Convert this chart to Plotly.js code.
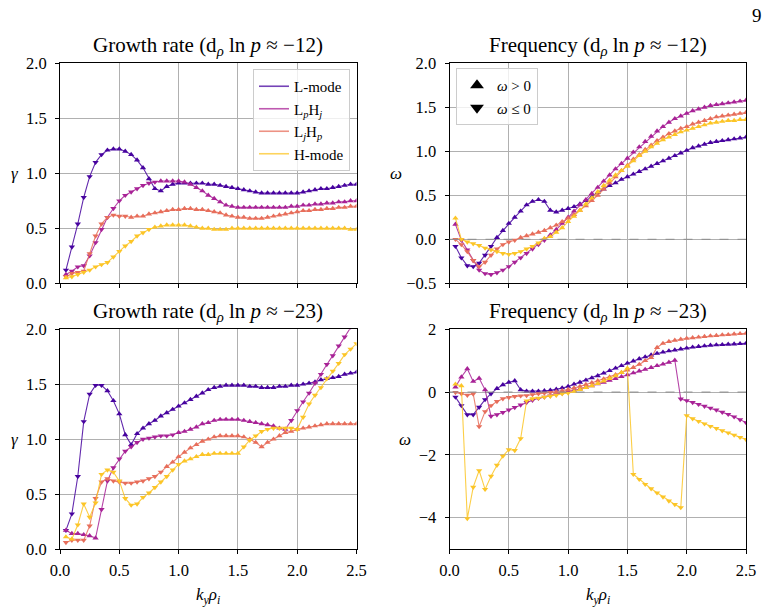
<!DOCTYPE html>
<html>
<head>
<meta charset="utf-8">
<script src="https://cdn.plot.ly/plotly-3.0.1.min.js"></script>
<style>
  html, body { margin: 0; padding: 0; background: #ffffff; }
  #chart { width: 768px; height: 608px; }
</style>
</head>
<body>
<div id="chart"></div>
<script>
// Binormal wavenumber grid k_y rho_i
const ky = [0.05,0.10,0.15,0.20,0.25,0.30,0.35,0.40,0.45,0.50,
            0.55,0.60,0.65,0.70,0.75,0.80,0.85,0.90,0.95,1.00,
            1.05,1.10,1.15,1.20,1.25,1.30,1.35,1.40,1.45,1.50,
            1.55,1.60,1.65,1.70,1.75,1.80,1.85,1.90,1.95,2.00,
            2.05,2.10,2.15,2.20,2.25,2.30,2.35,2.40,2.45,2.50];

const seriesNames = ['L-mode', 'L<sub><i>p</i></sub>H<sub><i>j</i></sub>', 'L<sub><i>j</i></sub>H<sub><i>p</i></sub>', 'H-mode'];
const seriesColors = ['#47039f', '#a82296', '#e76e5b', '#fcc527'];

// Growth rate, d_rho ln p ~ -12
const gr12_L    = [0.12,0.33,0.54,0.78,0.97,1.10,1.17,1.21,1.22,1.22, 1.20,1.17,1.12,1.05,0.95,0.86,0.84,0.88,0.90,0.91, 0.91,0.91,0.91,0.91,0.90,0.90,0.89,0.88,0.87,0.86, 0.85,0.84,0.83,0.82,0.82,0.82,0.82,0.82,0.82,0.82, 0.83,0.84,0.85,0.86,0.86,0.87,0.88,0.89,0.90,0.90];
const gr12_LpHj = [0.08,0.11,0.15,0.16,0.25,0.37,0.49,0.60,0.68,0.75, 0.80,0.83,0.86,0.89,0.91,0.92,0.93,0.93,0.93,0.93, 0.92,0.90,0.87,0.84,0.80,0.77,0.74,0.71,0.70,0.69, 0.69,0.69,0.69,0.69,0.69,0.69,0.69,0.69,0.70,0.70, 0.71,0.71,0.72,0.72,0.73,0.73,0.74,0.74,0.75,0.75];
const gr12_LjHp = [0.06,0.09,0.10,0.11,0.27,0.43,0.54,0.60,0.62,0.61, 0.61,0.60,0.61,0.61,0.63,0.64,0.65,0.66,0.67,0.67, 0.68,0.68,0.67,0.67,0.66,0.65,0.64,0.62,0.61,0.60, 0.60,0.59,0.59,0.59,0.60,0.61,0.62,0.63,0.64,0.65, 0.66,0.66,0.67,0.67,0.68,0.68,0.69,0.69,0.70,0.70];
const gr12_H    = [0.05,0.06,0.08,0.10,0.12,0.15,0.17,0.19,0.24,0.29, 0.34,0.38,0.43,0.46,0.49,0.51,0.52,0.53,0.53,0.53, 0.53,0.52,0.51,0.50,0.50,0.49,0.49,0.49,0.50,0.50, 0.50,0.50,0.50,0.50,0.50,0.50,0.50,0.50,0.50,0.50, 0.50,0.50,0.50,0.50,0.50,0.50,0.50,0.50,0.49,0.49];

// Frequency, d_rho ln p ~ -12
const fr12_L    = [-0.08,-0.21,-0.30,-0.31,-0.27,-0.18,-0.08,0.02,0.10,0.18, 0.25,0.32,0.39,0.43,0.45,0.43,0.33,0.31,0.33,0.35, 0.37,0.40,0.44,0.48,0.53,0.57,0.61,0.64,0.68,0.71, 0.74,0.77,0.80,0.83,0.86,0.89,0.92,0.95,0.98,1.01, 1.04,1.06,1.08,1.10,1.11,1.12,1.13,1.14,1.15,1.16];
const fr12_LpHj = [0.17,-0.01,-0.12,-0.24,-0.35,-0.39,-0.40,-0.38,-0.35,-0.31, -0.26,-0.21,-0.16,-0.11,-0.06,-0.01,0.05,0.11,0.18,0.25, 0.32,0.39,0.45,0.52,0.59,0.66,0.73,0.80,0.86,0.92, 0.99,1.05,1.11,1.17,1.23,1.28,1.33,1.37,1.40,1.43, 1.46,1.48,1.50,1.52,1.53,1.54,1.55,1.56,1.57,1.58];
const fr12_LjHp = [0.00,-0.06,-0.14,-0.24,-0.31,-0.26,-0.18,-0.11,-0.06,-0.03, -0.01,0.02,0.04,0.06,0.08,0.10,0.13,0.16,0.20,0.24, 0.28,0.33,0.38,0.44,0.50,0.57,0.64,0.71,0.78,0.84, 0.91,0.96,1.02,1.07,1.12,1.16,1.20,1.23,1.26,1.28, 1.31,1.33,1.35,1.37,1.39,1.40,1.41,1.42,1.43,1.44];
const fr12_H    = [0.24,0.00,-0.03,-0.05,-0.07,-0.10,-0.12,-0.14,-0.16,-0.17, -0.16,-0.14,-0.11,-0.08,-0.04,0.01,0.03,0.08,0.13,0.20, 0.26,0.33,0.40,0.47,0.54,0.61,0.67,0.73,0.78,0.83, 0.89,0.95,1.00,1.05,1.09,1.13,1.16,1.19,1.22,1.24, 1.26,1.28,1.30,1.32,1.33,1.34,1.35,1.35,1.36,1.36];

// Growth rate, d_rho ln p ~ -23
const gr23_L    = [0.17,0.32,0.66,1.16,1.41,1.49,1.49,1.44,1.35,1.23, 1.04,0.95,1.05,1.10,1.14,1.17,1.21,1.24,1.27,1.30, 1.33,1.36,1.39,1.42,1.45,1.47,1.48,1.49,1.49,1.49, 1.49,1.48,1.48,1.47,1.47,1.47,1.48,1.48,1.49,1.49, 1.50,1.51,1.52,1.54,1.55,1.56,1.57,1.59,1.60,1.61];
const gr23_LpHj = [0.17,0.14,0.14,0.13,0.12,0.10,0.36,0.62,0.74,0.82, 0.89,0.93,0.97,1.00,1.01,1.02,1.03,1.03,1.04,1.06, 1.07,1.09,1.11,1.14,1.15,1.17,1.18,1.18,1.18,1.18, 1.17,1.16,1.15,1.14,1.13,1.12,1.10,1.09,1.17,1.26, 1.34,1.42,1.51,1.59,1.68,1.76,1.85,1.93,2.02,2.10];
const gr23_LjHp = [0.06,0.08,0.08,0.08,0.21,0.46,0.61,0.64,0.62,0.61, 0.60,0.60,0.61,0.62,0.64,0.66,0.70,0.75,0.79,0.84, 0.88,0.92,0.95,0.98,1.00,1.02,1.03,1.03,1.03,1.03, 1.02,1.00,0.97,0.93,0.97,1.00,1.03,1.06,1.07,1.09, 1.10,1.11,1.12,1.13,1.14,1.14,1.14,1.14,1.14,1.14];
const gr23_H    = [0.11,0.09,0.22,0.41,0.29,0.42,0.68,0.72,0.70,0.62, 0.46,0.40,0.41,0.47,0.51,0.56,0.61,0.66,0.72,0.77, 0.80,0.82,0.84,0.86,0.86,0.87,0.87,0.87,0.87,0.87, 0.93,0.99,1.03,1.07,1.09,1.10,1.10,1.10,1.10,1.09, 1.20,1.32,1.40,1.47,1.55,1.62,1.69,1.77,1.82,1.87];

// Frequency, d_rho ln p ~ -23
const fr23_L    = [-0.16,-0.43,-0.72,-0.72,-0.48,-0.24,-0.05,0.11,0.23,0.31, 0.36,0.07,0.03,0.03,0.03,0.04,0.06,0.09,0.13,0.18, 0.25,0.31,0.38,0.45,0.52,0.60,0.68,0.76,0.84,0.92, 0.99,1.06,1.12,1.18,1.23,1.27,1.31,1.34,1.37,1.40, 1.43,1.45,1.47,1.49,1.50,1.51,1.52,1.53,1.54,1.55];
const fr23_LpHj = [0.16,0.48,0.74,0.34,0.44,0.07,-0.77,-0.72,-0.65,-0.57, -0.49,-0.41,-0.33,-0.26,-0.20,-0.16,-0.12,-0.08,-0.04,0.02, 0.06,0.10,0.15,0.20,0.26,0.31,0.37,0.43,0.49,0.55, 0.61,0.67,0.72,0.78,0.84,0.89,0.95,1.01,-0.22,-0.27, -0.33,-0.39,-0.45,-0.51,-0.57,-0.64,-0.71,-0.79,-0.88,-0.97];
const fr23_LjHp = [-0.01,-0.05,-0.10,-0.06,-1.10,-0.62,-0.43,-0.30,-0.21,-0.17, -0.14,-0.12,-0.11,-0.08,-0.05,-0.03,-0.01,0.01,0.04,0.08, 0.13,0.18,0.24,0.30,0.36,0.42,0.48,0.55,0.62,0.70, 0.78,0.88,1.00,1.10,1.42,1.55,1.61,1.65,1.68,1.71, 1.73,1.75,1.77,1.79,1.80,1.82,1.83,1.85,1.86,1.87];
const fr23_H    = [0.25,0.20,-4.03,-3.03,-2.50,-3.10,-2.68,-2.33,-2.04,-1.83, -1.86,-1.48,-0.28,-0.21,-0.19,-0.16,-0.13,-0.10,-0.05,-0.03, 0.02,0.08,0.14,0.20,0.27,0.35,0.43,0.52,0.62,0.76, -2.62,-2.78,-2.94,-3.08,-3.21,-3.34,-3.47,-3.58,-3.68,-0.75, -0.85,-0.93,-1.01,-1.09,-1.16,-1.23,-1.30,-1.37,-1.44,-1.51];

const gr12 = [gr12_L, gr12_LpHj, gr12_LjHp, gr12_H];
const fr12 = [fr12_L, fr12_LpHj, fr12_LjHp, fr12_H];
const gr23 = [gr23_L, gr23_LpHj, gr23_LjHp, gr23_H];
const fr23 = [fr23_L, fr23_LpHj, fr23_LjHp, fr23_H];

const FONT = 'Liberation Serif, Times New Roman, DejaVu Serif, serif';

function withAlpha(hex, a) {
  const r = parseInt(hex.slice(1, 3), 16), g = parseInt(hex.slice(3, 5), 16), b = parseInt(hex.slice(5, 7), 16);
  return `rgba(${r},${g},${b},${a})`;
}

// Triangle up where the mode propagates with omega > 0, down otherwise
function symbolsFrom(freq) {
  return freq.map(w => (w > 0 ? 'triangle-up' : 'triangle-down'));
}

const traces = [];
function addPanel(values, freqs, xa, ya) {
  values.forEach((vals, i) => {
    traces.push({
      x: ky, y: vals, xaxis: xa, yaxis: ya,
      type: 'scatter', mode: 'lines+markers', showlegend: false, hoverinfo: 'skip',
      line: { color: withAlpha(seriesColors[i], 0.85), width: 1.1 },
      marker: { color: seriesColors[i], size: 5.5, symbol: symbolsFrom(freqs[i]), line: { width: 0 } }
    });
  });
}
addPanel(gr12, fr12, 'x', 'y');
addPanel(fr12, fr12, 'x2', 'y2');
addPanel(gr23, fr23, 'x3', 'y3');
addPanel(fr23, fr23, 'x4', 'y4');

// Legend entries: case colours
seriesNames.forEach((name, i) => {
  traces.push({
    x: [null], y: [null], xaxis: 'x', yaxis: 'y', type: 'scatter', mode: 'lines',
    name: name, legend: 'legend',
    line: { color: withAlpha(seriesColors[i], 0.75), width: 1.6 }
  });
});
// Legend entries: marker meaning
[['triangle-up', '<i>ω</i> > 0'], ['triangle-down', '<i>ω</i> ≤ 0']].forEach(([sym, label]) => {
  traces.push({
    x: [null], y: [null], xaxis: 'x2', yaxis: 'y2', type: 'scatter', mode: 'markers',
    name: label, legend: 'legend2',
    marker: { color: '#000000', size: 13, symbol: sym }
  });
});

const W = 768, H = 608;
const colL = [60 / W, 356.5 / W], colR = [449.5 / W, 746 / W];
const rowT = [1 - 283.3 / H, 1 - 63.3 / H], rowB = [1 - 549 / H, 1 - 329.3 / H];

const tickFont = { family: FONT, size: 16.5, color: '#000000' };
function xAxis(domain, anchor, labels) {
  return {
    domain: domain, anchor: anchor, range: [0, 2.5], tick0: 0, dtick: 0.5, tickformat: '.1f',
    showticklabels: labels, ticks: 'outside', ticklen: 4, tickwidth: 1, tickcolor: '#000000',
    showline: true, mirror: true, linecolor: '#000000', linewidth: 1,
    showgrid: true, gridcolor: '#b0b0b0', gridwidth: 1, zeroline: false,
    tickfont: tickFont, automargin: false, ticklabelstandoff: 2
  };
}
function yAxis(domain, anchor, range, dtick, fmt) {
  return {
    domain: domain, anchor: anchor, range: range, tick0: 0, dtick: dtick, tickformat: fmt,
    ticks: 'outside', ticklen: 4, tickwidth: 1, tickcolor: '#000000',
    showline: true, mirror: true, linecolor: '#000000', linewidth: 1,
    showgrid: true, gridcolor: '#b0b0b0', gridwidth: 1, zeroline: false,
    tickfont: tickFont, automargin: false, ticklabelstandoff: 5
  };
}

function label(text, xpx, ypx, size) {
  return { text: text, x: xpx / W, y: 1 - ypx / H, xref: 'paper', yref: 'paper', xanchor: 'center', yanchor: 'middle',
           showarrow: false, font: { family: FONT, size: size, color: '#000000' } };
}
const midL = (colL[0] + colL[1]) / 2 * W, midR = (colR[0] + colR[1]) / 2 * W;
const kyTitle = '<i>k</i><sub><i>y</i></sub><i>ρ</i><sub><i>i</i></sub>';

const layout = {
  width: W, height: H,
  margin: { l: 0, r: 0, t: 0, b: 0 },
  paper_bgcolor: '#ffffff', plot_bgcolor: '#ffffff',
  font: { family: FONT, color: '#000000' },
  showlegend: true,
  xaxis: xAxis(colL, 'y', false),
  yaxis: yAxis(rowT, 'x', [0, 2], 0.5, '.1f'),
  xaxis2: xAxis(colR, 'y2', false),
  yaxis2: yAxis(rowT, 'x2', [-0.5, 2], 0.5, '.1f'),
  xaxis3: xAxis(colL, 'y3', true),
  yaxis3: yAxis(rowB, 'x3', [0, 2], 0.5, '.1f'),
  xaxis4: xAxis(colR, 'y4', true),
  yaxis4: yAxis(rowB, 'x4', [-5, 2], 2, 'd'),
  legend: {
    x: 350 / W, y: 1 - 69 / H, xanchor: 'right', yanchor: 'top',
    bgcolor: 'rgba(255,255,255,0.8)', bordercolor: '#cccccc', borderwidth: 1,
    font: { family: FONT, size: 15, color: '#000000' }, tracegroupgap: 0, itemwidth: 30
  },
  legend2: {
    x: 456 / W, y: 1 - 68 / H, xanchor: 'left', yanchor: 'top',
    bgcolor: 'rgba(255,255,255,0.8)', bordercolor: '#cccccc', borderwidth: 1,
    font: { family: FONT, size: 15, color: '#000000' }, tracegroupgap: 0, itemsizing: 'constant'
  },
  shapes: [
    { type: 'line', xref: 'x2 domain', yref: 'y2', x0: 0, x1: 1, y0: 0, y1: 0, line: { color: '#8c8c8c', width: 1, dash: 'dash' } },
    { type: 'line', xref: 'x4 domain', yref: 'y4', x0: 0, x1: 1, y0: 0, y1: 0, line: { color: '#8c8c8c', width: 1, dash: 'dash' } }
  ],
  annotations: [
    label('Growth rate (d<sub><i>ρ</i></sub> ln <i>p</i> ≈ −12)', midL, 46, 21),
    label('Frequency (d<sub><i>ρ</i></sub> ln <i>p</i> ≈ −12)', midR, 46, 21),
    label('Growth rate (d<sub><i>ρ</i></sub> ln <i>p</i> ≈ −23)', midL, 312, 21),
    label('Frequency (d<sub><i>ρ</i></sub> ln <i>p</i> ≈ −23)', midR, 312, 21),
    label('<i>γ</i>', 15, 173, 17),
    label('<i>ω</i>', 396, 173, 17),
    label('<i>γ</i>', 15, 439, 17),
    label('<i>ω</i>', 405, 439, 17),
    label(kyTitle, midL, 596, 17),
    label(kyTitle, midR, 596, 17),
    label('9', 757, 15, 19)
  ]
};

Plotly.newPlot('chart', traces, layout, { staticPlot: true, displayModeBar: false });
</script>
</body>
</html>
